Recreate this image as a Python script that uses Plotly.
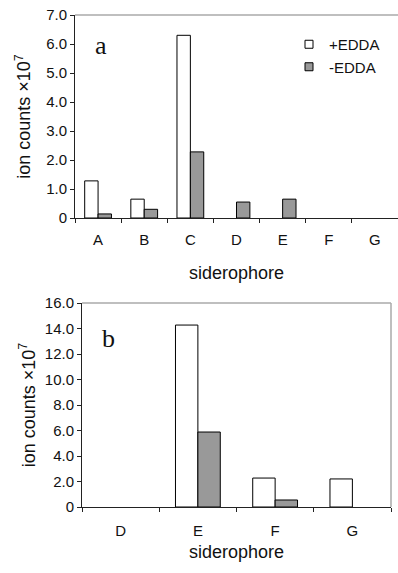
import plotly.graph_objects as go

# Panel a
cats_a = ["A", "B", "C", "D", "E", "F", "G"]
plus_a = [1.28, 0.65, 6.3, 0, 0, 0, 0]
minus_a = [0.14, 0.3, 2.28, 0.55, 0.65, 0, 0]
yt_a = [0, 1, 2, 3, 4, 5, 6, 7]
yl_a = ["0", "1.0", "2.0", "3.0", "4.0", "5.0", "6.0", "7.0"]

# Panel b
cats_b = ["D", "E", "F", "G"]
plus_b = [0, 14.27, 2.27, 2.2]
minus_b = [0, 5.88, 0.55, 0]
yt_b = [0, 2, 4, 6, 8, 10, 12, 14, 16]
yl_b = ["0", "2.0", "4.0", "6.0", "8.0", "10.0", "12.0", "14.0", "16.0"]

W, H = 398, 573
GRAY = "#999999"
SANS = "Liberation Sans, Arial, sans-serif"
tickfont = dict(family=SANS, size=15, color="#111")
titlefont = dict(family=SANS, size=18, color="#111")


def lw(vals):
    return [1 if v else 0 for v in vals]


fig = go.Figure()
fig.add_trace(go.Bar(x=cats_a, y=plus_a, name="+EDDA", showlegend=False,
                     marker=dict(color="white", line=dict(color="black", width=lw(plus_a))),
                     xaxis="x", yaxis="y"))
fig.add_trace(go.Bar(x=cats_a, y=minus_a, name="-EDDA", showlegend=False,
                     marker=dict(color=GRAY, line=dict(color="black", width=lw(minus_a))),
                     xaxis="x", yaxis="y"))
fig.add_trace(go.Bar(x=cats_b, y=plus_b, name="+EDDA", showlegend=False,
                     marker=dict(color="white", line=dict(color="black", width=lw(plus_b))),
                     xaxis="x2", yaxis="y2"))
fig.add_trace(go.Bar(x=cats_b, y=minus_b, name="-EDDA", showlegend=False,
                     marker=dict(color=GRAY, line=dict(color="black", width=lw(minus_b))),
                     xaxis="x2", yaxis="y2"))
# legend entries (small square swatches)
fig.add_trace(go.Scatter(x=[None], y=[None], mode="markers", name="+EDDA", legendgroup="p",
                         marker=dict(symbol="square", size=8, color="white", line=dict(color="black", width=1)),
                         xaxis="x", yaxis="y"))
fig.add_trace(go.Scatter(x=[None], y=[None], mode="markers", name="-EDDA", legendgroup="m",
                         marker=dict(symbol="square", size=8, color=GRAY, line=dict(color="black", width=1)),
                         xaxis="x", yaxis="y"))


def yd(top, bot):
    return [1 - bot / H, 1 - top / H]


xcommon = dict(type="category", showline=True, linecolor="#222", linewidth=1, ticks="outside",
               tickson="boundaries", ticklen=4, tickcolor="#222", showgrid=False, zeroline=False,
               tickfont=tickfont, title_font=titlefont, automargin=False)
ycommon = dict(showline=True, linecolor="#222", linewidth=1, ticks="outside", ticklen=4, tickcolor="#222",
               showgrid=False, zeroline=False, tickfont=tickfont, title_font=titlefont, automargin=False)

fig.update_layout(
    template="none",
    width=W, height=H, margin=dict(l=0, r=0, t=0, b=0, pad=0, autoexpand=False),
    paper_bgcolor="white", plot_bgcolor="white",
    barmode="group", bargap=0.42, bargroupgap=0,
    font=tickfont,
    xaxis=dict(xcommon, domain=[75 / W, 1.0], anchor="y", ticklabelstandoff=8,
               title=dict(text="siderophore", standoff=19)),
    yaxis=dict(ycommon, domain=yd(15, 218), anchor="x", range=[0, 7], tickvals=yt_a, ticktext=yl_a,
               title=dict(text="ion counts ×10<sup>7</sup>", standoff=10)),
    xaxis2=dict(xcommon, domain=[82 / W, 391 / W], anchor="y2", ticklabelstandoff=10,
                title=dict(text="siderophore", standoff=7)),
    yaxis2=dict(ycommon, domain=yd(303, 507), anchor="x2", range=[0, 16], tickvals=yt_b, ticktext=yl_b,
                title=dict(text="ion counts ×10<sup>7</sup>", standoff=4)),
    legend=dict(x=289 / W, y=1 - 28 / H, xanchor="left", yanchor="top", bgcolor="rgba(0,0,0,0)",
                font=tickfont, itemwidth=30, tracegroupgap=6, traceorder="normal"),
    showlegend=True,
    annotations=[
        dict(text="a", x=101 / W, y=1 - 45 / H, xref="paper", yref="paper", showarrow=False,
             xanchor="center", yanchor="middle",
             font=dict(family="Liberation Serif, Times New Roman, serif", size=26, color="#111")),
        dict(text="b", x=108 / W, y=1 - 338 / H, xref="paper", yref="paper", showarrow=False,
             xanchor="center", yanchor="middle",
             font=dict(family="Liberation Serif, Times New Roman, serif", size=26, color="#111")),
    ],
    shapes=[
        dict(type="line", xref="x domain", yref="y domain", x0=0, x1=1, y0=1, y1=1,
             line=dict(color="#aaaaaa", width=1.5)),
        dict(type="line", xref="x2 domain", yref="y2 domain", x0=0, x1=1, y0=1, y1=1,
             line=dict(color="#aaaaaa", width=1.5)),
        dict(type="line", xref="x2 domain", yref="y2 domain", x0=1, x1=1, y0=0, y1=1,
             line=dict(color="#aaaaaa", width=1.5)),
    ],
)

fig.write_html("out.html")
